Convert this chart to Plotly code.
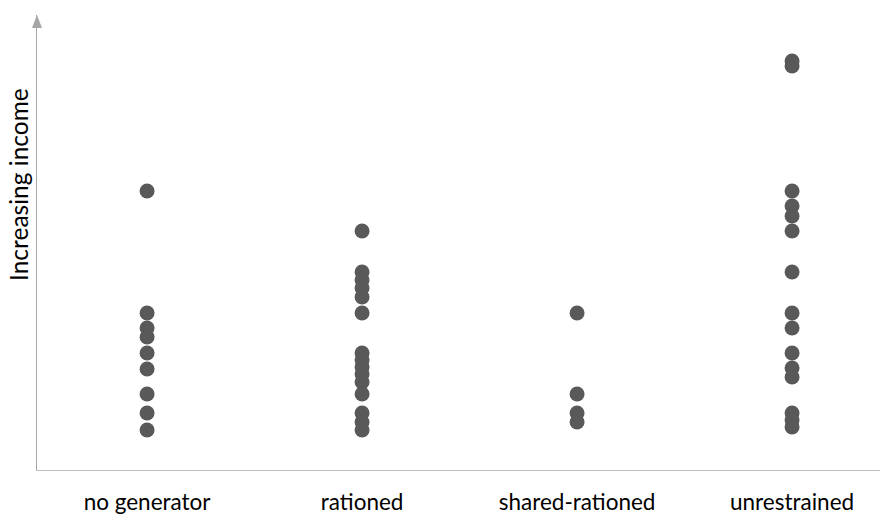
import plotly.graph_objects as go

categories = ["no generator", "rationed", "shared-rationed", "unrestrained"]

# Income values (arbitrary units; 0 = horizontal axis)
no_generator = [27.9, 15.7, 14.2, 13.3, 11.7, 10.1, 7.6, 5.7, 4.0]
rationed = [23.9, 19.8, 19.0, 18.2, 17.3, 15.7, 11.7, 11.0, 10.3, 9.6, 8.8, 7.6, 5.7, 4.8, 4.0]
shared_rationed = [15.7, 7.6, 5.7, 4.8]
unrestrained = [40.9, 40.4, 27.9, 26.4, 25.4, 23.9, 19.8, 15.7, 14.2, 11.7, 10.2, 9.3, 5.7, 5.0, 4.3]

series = [no_generator, rationed, shared_rationed, unrestrained]

xs, ys = [], []
for cat, vals in zip(categories, series):
    xs += [cat] * len(vals)
    ys += vals

fig = go.Figure()
fig.add_trace(go.Scatter(
    x=xs, y=ys, mode="markers",
    marker=dict(size=15, color="#595959", line=dict(width=0)),
    showlegend=False, hoverinfo="x+y",
))

W, H = 889, 514
ml, mr, mt, mb = 37, 9, 15, 44
pw, ph = W - ml - mr, H - mt - mb

fig.update_layout(
    width=W, height=H,
    margin=dict(l=ml, r=mr, t=mt, b=mb, pad=0, autoexpand=False),
    plot_bgcolor="white", paper_bgcolor="white",
    font=dict(family="Lato, 'Open Sans', sans-serif", color="#000000"),
    xaxis=dict(
        type="category", categoryorder="array", categoryarray=categories,
        range=[-0.512, 3.409], automargin=False,
        showgrid=False, zeroline=False,
        showline=True, linecolor="#bfbfbf", linewidth=1,
        ticks="", tickfont=dict(size=22.5, color="#000000"),
        ticklabelstandoff=12,
    ),
    yaxis=dict(
        range=[0, 45.5], automargin=False,
        showgrid=False, zeroline=False, showticklabels=False,
        showline=True, linecolor="#a6a6a6", linewidth=1, ticks="",
    ),
    shapes=[dict(
        type="path", xref="paper", yref="paper",
        path=f"M 0,1 L {-5/pw},{1-13/ph} L {5/pw},{1-13/ph} Z",
        fillcolor="#a6a6a6", line=dict(width=0),
    )],
    annotations=[dict(
        text="Increasing income", textangle=-90,
        xref="paper", yref="paper",
        x=-19/pw, y=1 - (185 - mt)/ph,
        xanchor="center", yanchor="middle", showarrow=False,
        font=dict(size=24.5, color="#000000"),
    )],
)

fig.write_html(
    "out.html",
    config={"displayModeBar": False},
    post_script="document.body.style.margin='0';document.body.style.padding='0';",
)
